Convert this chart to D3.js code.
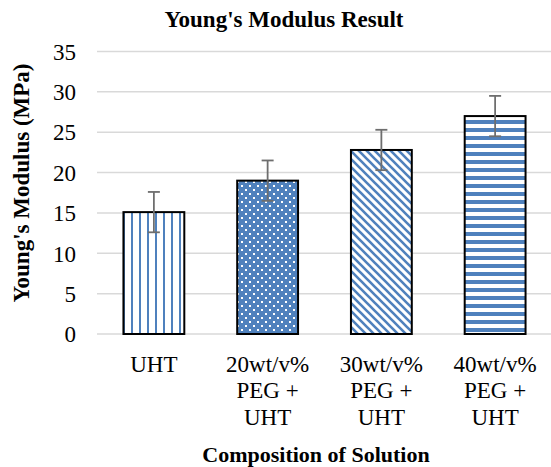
<!DOCTYPE html>
<html>
<head>
<meta charset="utf-8">
<script src="https://d3js.org/d3.v7.min.js"></script>
<style>
  body { margin: 0; background: #fff; }
</style>
</head>
<body>
<svg id="chart" width="551" height="467"></svg>
<script>
// data
const categories = ["UHT", "20wt/v% PEG + UHT", "30wt/v% PEG + UHT", "40wt/v% PEG + UHT"];
const labelLines = [["UHT"], ["20wt/v%", "PEG +", "UHT"], ["30wt/v%", "PEG +", "UHT"], ["40wt/v%", "PEG +", "UHT"]];
const values = [15.1, 19.0, 22.8, 27.0];
const errors = [2.5, 2.5, 2.5, 2.5];
const patterns = ["vert", "dots", "diag", "horiz"];
const yTicks = [0, 5, 10, 15, 20, 25, 30, 35];

const blue = "#4F81BD";
const serif = "'Times New Roman', 'Liberation Serif', 'DejaVu Serif', serif";
const svg = d3.select("#chart");

var plotLeft = 97, plotRight = 552, plotTop = 51.5, plotBase = 334;

var x = d3.scaleBand()
    .domain(categories)
    .range([plotLeft, plotRight])
    .paddingInner(0.465)
    .paddingOuter(0.2325);

var y = d3.scaleLinear()
    .domain([0, 35])
    .range([plotBase, plotTop]);

// fill patterns, like Excel's pattern fills
var defs = svg.append("defs");

var p1 = defs.append("pattern").attr("id", "vert")
    .attr("patternUnits", "userSpaceOnUse").attr("width", 8).attr("height", 8);
p1.append("rect").attr("width", 8).attr("height", 8).attr("fill", "#fff");
p1.append("rect").attr("x", 3).attr("width", 2).attr("height", 8).attr("fill", blue);

var p2 = defs.append("pattern").attr("id", "dots")
    .attr("patternUnits", "userSpaceOnUse").attr("width", 8).attr("height", 8);
p2.append("rect").attr("width", 8).attr("height", 8).attr("fill", blue);
p2.append("rect").attr("x", 1).attr("y", 1).attr("width", 2).attr("height", 2).attr("fill", "#fff");
p2.append("rect").attr("x", 5).attr("y", 5).attr("width", 2).attr("height", 2).attr("fill", "#fff");

var p3 = defs.append("pattern").attr("id", "diag")
    .attr("patternUnits", "userSpaceOnUse").attr("width", 8).attr("height", 8);
p3.append("rect").attr("width", 8).attr("height", 8).attr("fill", "#fff");
p3.append("path")
    .attr("d", "M-1,-1 L9,9 M-5,3 L5,13 M3,-5 L13,5")
    .attr("stroke", blue).attr("stroke-width", 2.6);

var p4 = defs.append("pattern").attr("id", "horiz")
    .attr("patternUnits", "userSpaceOnUse").attr("width", 8).attr("height", 8);
p4.append("rect").attr("width", 8).attr("height", 8).attr("fill", "#fff");
p4.append("rect").attr("width", 8).attr("height", 4).attr("fill", blue);

// gridlines
svg.append("g").selectAll("line")
    .data(yTicks)
    .join("line")
    .attr("x1", plotLeft).attr("x2", 551)
    .attr("y1", d => y(d)).attr("y2", d => y(d))
    .attr("stroke", "#d9d9d9")
    .attr("stroke-width", 1.5);

// y tick labels
svg.append("g").selectAll("text")
    .data(yTicks)
    .join("text")
    .attr("x", 76)
    .attr("y", d => y(d))
    .attr("dy", "0.36em")
    .attr("text-anchor", "end")
    .attr("font-family", serif)
    .attr("font-size", 23)
    .text(d => d);

// bars
svg.append("g").selectAll("rect")
    .data(values)
    .join("rect")
    .attr("x", (d, i) => x(categories[i]))
    .attr("y", d => y(d))
    .attr("width", x.bandwidth())
    .attr("height", d => y(0) - y(d))
    .attr("fill", (d, i) => "url(#" + patterns[i] + ")")
    .attr("stroke", "#000")
    .attr("stroke-width", 2);

// error bars
var eb = svg.append("g").attr("stroke", "#6e6e6e").attr("stroke-width", 1.8);
values.forEach(function(v, i) {
    var cx = x(categories[i]) + x.bandwidth() / 2;
    var hi = y(v + errors[i]), lo = y(v - errors[i]);
    eb.append("line").attr("x1", cx).attr("x2", cx).attr("y1", hi).attr("y2", lo);
    eb.append("line").attr("x1", cx - 6).attr("x2", cx + 6).attr("y1", hi).attr("y2", hi);
    eb.append("line").attr("x1", cx - 6).attr("x2", cx + 6).attr("y1", lo).attr("y2", lo);
});

// category labels, several lines each
var lab = svg.append("g").selectAll("text")
    .data(labelLines)
    .join("text")
    .attr("text-anchor", "middle")
    .attr("font-family", serif)
    .attr("font-size", 23);
lab.selectAll("tspan")
    .data((d, i) => d.map(t => ({ t: t, i: i })))
    .join("tspan")
    .attr("x", d => x(categories[d.i]) + x.bandwidth() / 2)
    .attr("y", (d, j) => 371.5 + j * 26.7)
    .text(d => d.t);

// titles
svg.append("text")
    .attr("x", 284).attr("y", 27)
    .attr("text-anchor", "middle")
    .attr("font-family", serif)
    .attr("font-size", 23).attr("font-weight", "bold")
    .text("Young's Modulus Result");

svg.append("text")
    .attr("x", 316).attr("y", 462)
    .attr("text-anchor", "middle")
    .attr("font-family", serif)
    .attr("font-size", 22).attr("font-weight", "bold")
    .text("Composition of Solution");

svg.append("text")
    .attr("transform", "translate(28.5,183) rotate(-90)")
    .attr("text-anchor", "middle")
    .attr("font-family", serif)
    .attr("font-size", 23).attr("font-weight", "bold")
    .text("Young's Modulus (MPa)");
</script>
</body>
</html>
